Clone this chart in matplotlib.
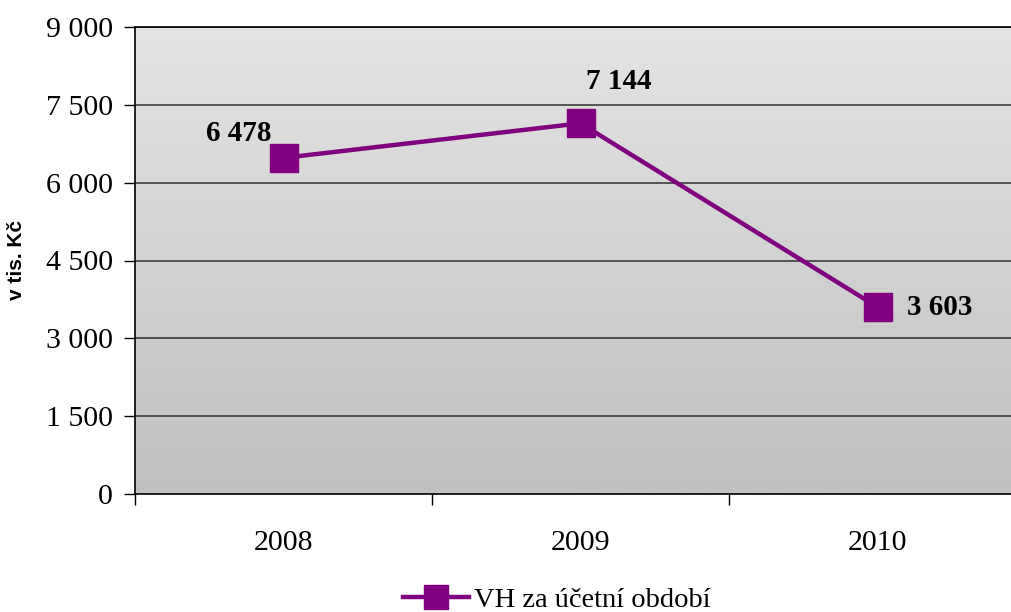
import matplotlib.pyplot as plt
import numpy as np

years = ['2008', '2009', '2010']
vh = [6478, 7144, 3603]
y_ticks = [0, 1500, 3000, 4500, 6000, 7500, 9000]
y_ticklabels = ['0', '1 500', '3 000', '4 500', '6 000', '7 500', '9 000']
purple = '#800080'

plt.rcParams['font.family'] = ['Liberation Serif', 'DejaVu Serif']

fig = plt.figure(figsize=(10.12, 6.12), dpi=100)
ax = fig.add_axes([135 / 1012, 118 / 612, 891 / 1012, 467 / 612])

# grey vertical gradient behind the plot
grad = np.linspace(0, 1, 256).reshape(-1, 1)
ax.imshow(grad, extent=[0, 1, 0, 1], transform=ax.transAxes, aspect='auto',
          cmap=plt.matplotlib.colors.LinearSegmentedColormap.from_list('g', ['#c0c0c0', '#e4e4e4']),
          origin='lower', zorder=0)

x = np.arange(len(years))
ax.set_xlim(-0.5, 2.5)
ax.set_ylim(0, 9000)
ax.set_yticks(y_ticks)
ax.set_yticklabels(y_ticklabels, fontsize=21.5)
for yv in y_ticks[1:]:
    ax.axhline(yv, color='#303030', lw=1.1, zorder=1)

ax.plot(x, vh, color=purple, lw=3.2, marker='s', markersize=20, zorder=3,
        label='VH za účetní období')

# value labels
offsets = [(-45, 24), (38, 42), (62, 0)]
for xi, v, (dx, dy) in zip(x, vh, offsets):
    ax.annotate(f'{v:,}'.replace(',', ' '), (xi, v), xytext=(dx, dy),
                textcoords='offset pixels', ha='center', va='center',
                fontsize=21, fontweight='bold', zorder=4)

ax.set_xticks([-0.5, 0.5, 1.5, 2.5])
ax.set_xticklabels([])
ax.set_xticks(x, minor=True)
ax.set_xticklabels(years, minor=True, fontsize=21.5)
ax.tick_params(axis='x', which='minor', length=0, pad=26)
ax.tick_params(axis='x', which='major', length=8, direction='out', width=1)
ax.tick_params(axis='y', length=8, direction='out', width=1, pad=8)

for side in ['top', 'left', 'bottom']:
    ax.spines[side].set_color('black')
    ax.spines[side].set_linewidth(1.2)
ax.spines['right'].set_visible(False)

ax.set_ylabel('v tis. Kč', family='Liberation Sans', fontweight='bold', fontsize=15,
              labelpad=14)

fig.legend(loc='center', bbox_to_anchor=(557 / 1012, 12 / 612), frameon=False,
           fontsize=20.5, handlelength=2.3, handletextpad=0.2, markerscale=0.85)

fig.savefig('out.png', dpi=100)
